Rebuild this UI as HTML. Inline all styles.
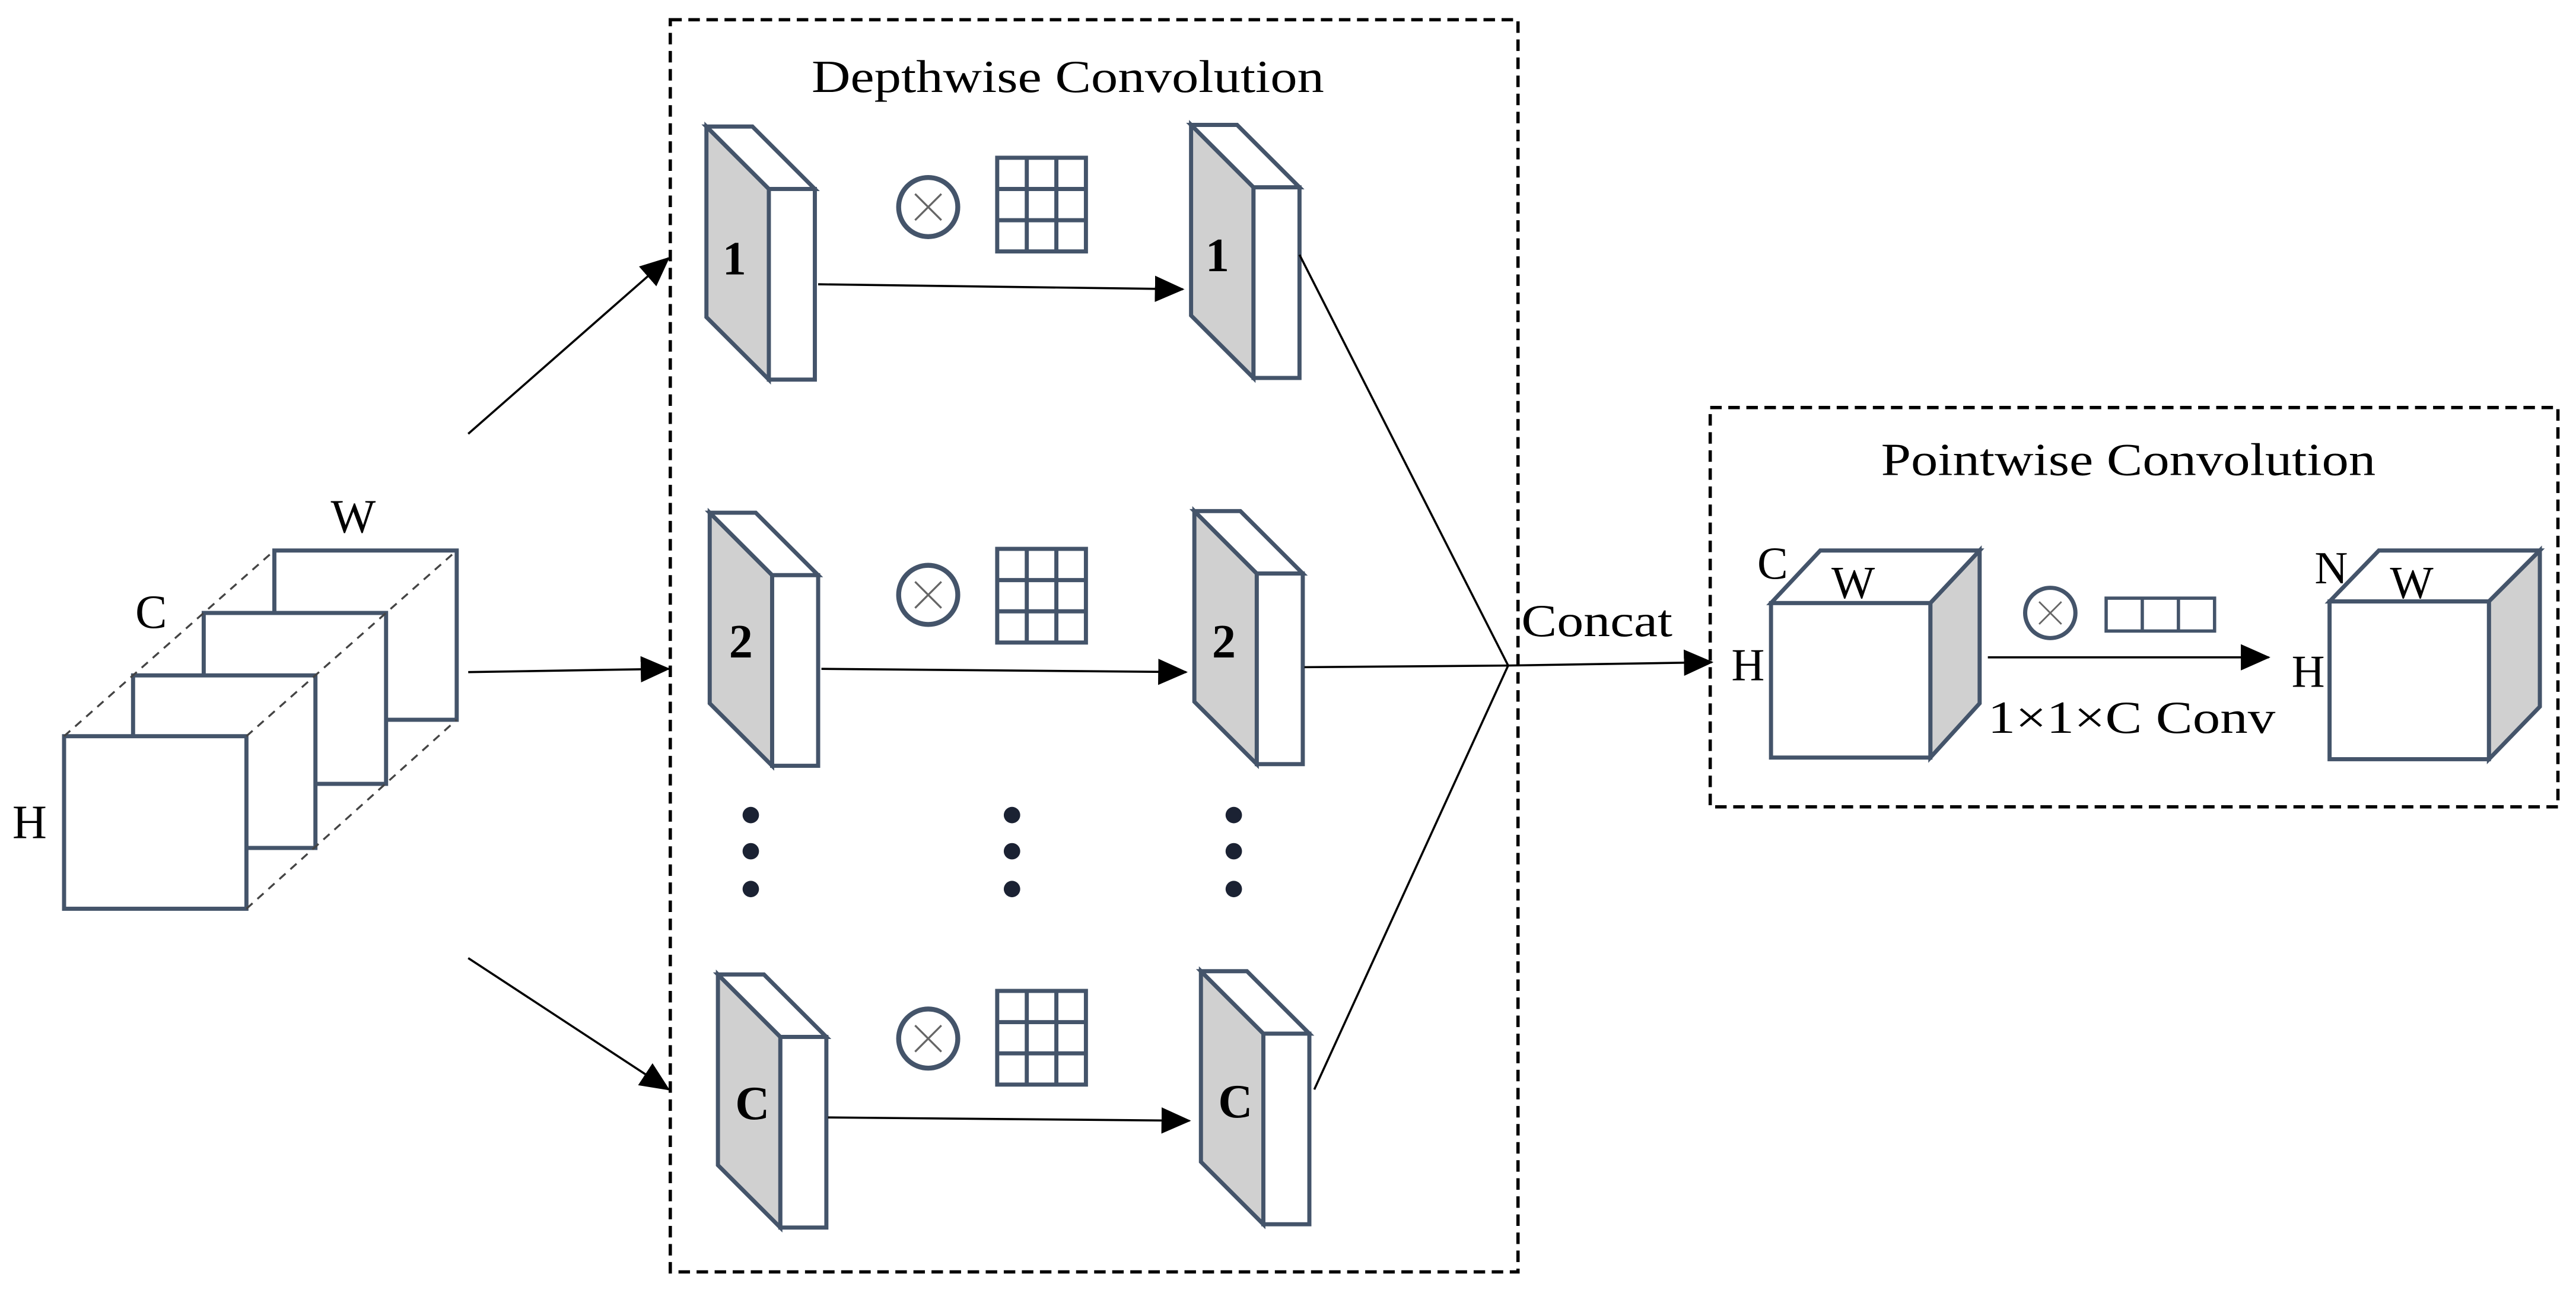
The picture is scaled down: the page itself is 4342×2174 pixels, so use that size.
<!DOCTYPE html>
<html><head><meta charset="utf-8"><style>html,body{margin:0;padding:0;background:#fff}svg{display:block}</style></head>
<body>
<svg width="4342" height="2174" viewBox="0 0 1568 785" preserveAspectRatio="none" xmlns="http://www.w3.org/2000/svg" font-family="Liberation Serif, serif">
<defs>
<marker id="b" markerWidth="18" markerHeight="16" refX="17" refY="8" orient="auto" markerUnits="userSpaceOnUse"><path d="M0,0 L18,8 L0,16 z" fill="#000"/></marker>
<g id="slab" stroke="#44546a" stroke-width="2.5" stroke-linejoin="miter">
<polygon points="0,0 38,38 38,154 0,116" fill="#d0d0d0"/>
<polygon points="0,0 28,0 66,38 38,38" fill="#fff"/>
<rect x="38" y="38" width="28" height="116" fill="#fff"/>
</g>
<g id="grid" stroke="#44546a" stroke-width="2.5" fill="#fff">
<rect x="0" y="0" width="54" height="57"/>
<line x1="18" y1="0" x2="18" y2="57"/><line x1="36" y1="0" x2="36" y2="57"/>
<line x1="0" y1="19" x2="54" y2="19"/><line x1="0" y1="38" x2="54" y2="38"/>
</g>
<g id="ot">
<circle cx="0" cy="0" r="18" fill="#fff" stroke="#44546a" stroke-width="3"/>
<path d="M-8,-8 L8,8 M8,-8 L-8,8" stroke="#666" stroke-width="1.2"/>
</g>
</defs>

<rect x="408" y="12" width="516" height="762" fill="none" stroke="#000" stroke-width="2" stroke-dasharray="7,4"/>
<rect x="1041" y="248" width="516" height="243" fill="none" stroke="#000" stroke-width="2" stroke-dasharray="7,4"/>
<text x="494" y="56" font-size="28" textLength="312" lengthAdjust="spacingAndGlyphs">Depthwise Convolution</text>
<text x="1145" y="289" font-size="28" textLength="301" lengthAdjust="spacingAndGlyphs">Pointwise Convolution</text>

<g stroke="#44546a" stroke-width="2.5" fill="#fff">
<rect x="167" y="335" width="111" height="103"/>
<rect x="124" y="373" width="111" height="104"/>
<rect x="81" y="411" width="111" height="105"/>
<rect x="39" y="448" width="111" height="105"/>
</g>
<g stroke="#444" stroke-width="1.2" stroke-dasharray="5,4" fill="none">
<line x1="39" y1="448" x2="167" y2="335"/>
<line x1="150" y1="448" x2="278" y2="335"/>
<line x1="150" y1="553" x2="278" y2="438"/>
</g>
<text x="215" y="324" font-size="29" text-anchor="middle">W</text>
<text x="92" y="382" font-size="29" text-anchor="middle">C</text>
<text x="18" y="510" font-size="29" text-anchor="middle">H</text>

<g stroke="#000" stroke-width="1.3">
<line x1="285" y1="264" x2="407" y2="157" marker-end="url(#b)"/>
<line x1="285" y1="409" x2="407" y2="407" marker-end="url(#b)"/>
<line x1="285" y1="583" x2="407" y2="663" marker-end="url(#b)"/>
</g>

<use href="#slab" x="430" y="77"/>
<use href="#slab" x="432" y="312"/>
<use href="#slab" x="437" y="593"/>
<use href="#slab" x="725" y="76"/>
<use href="#slab" x="727" y="311"/>
<use href="#slab" x="731" y="591"/>
<g font-size="29" font-weight="bold" text-anchor="middle">
<text x="447" y="167">1</text><text x="451" y="400">2</text><text x="458" y="681">C</text>
<text x="741" y="165">1</text><text x="745" y="400">2</text><text x="752" y="680">C</text>
</g>

<use href="#ot" x="565" y="126"/><use href="#grid" x="607" y="96"/>
<use href="#ot" x="565" y="362"/><use href="#grid" x="607" y="334"/>
<use href="#ot" x="565" y="632"/><use href="#grid" x="607" y="603"/>

<g stroke="#000" stroke-width="1.3">
<line x1="498" y1="173" x2="720" y2="176" marker-end="url(#b)"/>
<line x1="500" y1="407" x2="722" y2="409" marker-end="url(#b)"/>
<line x1="504" y1="680" x2="724" y2="682" marker-end="url(#b)"/>
<line x1="791" y1="155" x2="918" y2="405"/>
<line x1="794" y1="406" x2="918" y2="405"/>
<line x1="800" y1="663" x2="918" y2="405"/>
<line x1="918" y1="405" x2="1042" y2="403" marker-end="url(#b)"/>
</g>
<g fill="#1b2233">
<circle cx="457" cy="496" r="5"/><circle cx="457" cy="518" r="5"/><circle cx="457" cy="541" r="5"/>
<circle cx="616" cy="496" r="5"/><circle cx="616" cy="518" r="5"/><circle cx="616" cy="541" r="5"/>
<circle cx="751" cy="496" r="5"/><circle cx="751" cy="518" r="5"/><circle cx="751" cy="541" r="5"/>
</g>
<text x="926" y="387" font-size="28" textLength="92" lengthAdjust="spacingAndGlyphs">Concat</text>

<g stroke="#44546a" stroke-width="2.5" stroke-linejoin="miter">
<polygon points="1078,367 1108,335 1205,335 1175,367" fill="#fff"/>
<polygon points="1175,367 1205,335 1205,428 1175,461" fill="#d0d0d0"/>
<rect x="1078" y="367" width="97" height="94" fill="#fff"/>
<polygon points="1418,366 1448,335 1546,335 1515,366" fill="#fff"/>
<polygon points="1515,366 1546,335 1546,430 1515,462" fill="#d0d0d0"/>
<rect x="1418" y="366" width="97" height="96" fill="#fff"/>
</g>
<g font-size="28" text-anchor="middle">
<text x="1079" y="352">C</text><text x="1128" y="364">W</text><text x="1064" y="414">H</text>
<text x="1419" y="355">N</text><text x="1468" y="364">W</text><text x="1405" y="418">H</text>
</g>
<text x="1210" y="446" font-size="28" textLength="175" lengthAdjust="spacingAndGlyphs">1×1×C Conv</text>
<g transform="translate(1248,373) scale(0.85)"><use href="#ot"/></g>
<g stroke="#44546a" stroke-width="2" fill="#fff">
<rect x="1282" y="364" width="66" height="20"/>
<line x1="1304" y1="364" x2="1304" y2="384"/><line x1="1326" y1="364" x2="1326" y2="384"/>
</g>
<line x1="1210" y1="400" x2="1381" y2="400" stroke="#000" stroke-width="1.3" marker-end="url(#b)"/>
</svg>
</body></html>
